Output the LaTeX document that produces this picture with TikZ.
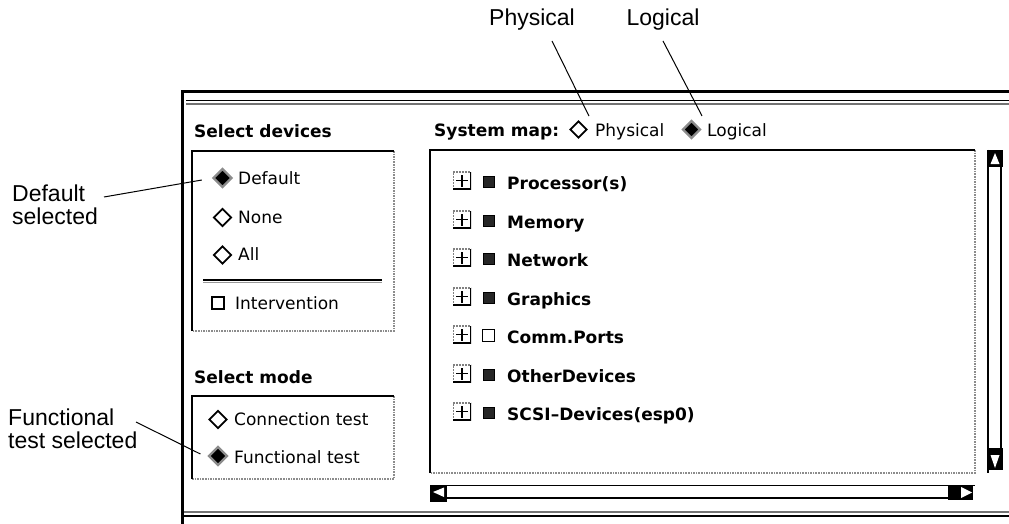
\documentclass[tikz,border=0pt]{standalone}
\usepackage{fontspec}
\setmainfont{Liberation Sans}
\newfontfamily\uifont{DejaVu Sans}
\usetikzlibrary{shapes.geometric,calc}
\tikzset{
  ann/.style={font=\fontsize{23}{23}\selectfont, inner sep=0pt, align=left},
  leader/.style={draw=black, line width=1pt},
  uitext/.style={font=\uifont\fontsize{17}{17}\selectfont, inner sep=0pt, anchor=base west},
  uihead/.style={font=\uifont\bfseries\fontsize{17}{17}\selectfont, inner sep=0pt, anchor=base west},
  radoff/.style={shape=diamond, draw=black, line width=1.8pt, fill=white, minimum size=18pt, inner sep=0pt},
  radon/.style={shape=diamond, draw=black!45, line width=2.2pt, fill=black, minimum size=19pt, inner sep=0pt},
  chkon/.style={draw=black, line width=1pt, fill=black!85, minimum size=11pt, inner sep=0pt},
  chkoff/.style={draw=black, line width=1.3pt, fill=white, minimum size=12pt, inner sep=0pt},
  plusbox/.style={minimum size=18pt, inner sep=0pt,
    path picture={
      \draw[black!50, densely dotted, line width=2pt] (path picture bounding box.south west) -- (path picture bounding box.north west) -- (path picture bounding box.north east);
      \draw[black, line width=2.6pt] (path picture bounding box.north east) -- (path picture bounding box.south east) -- (path picture bounding box.south west);
      \draw[line width=1.9pt] ([xshift=-6pt]path picture bounding box.center) -- ([xshift=6pt]path picture bounding box.center);
      \draw[line width=1.9pt] ([yshift=-6pt]path picture bounding box.center) -- ([yshift=6pt]path picture bounding box.center);}},
  darkedge/.style={draw=black, line width=2.4pt},
  lightedge/.style={draw=black!45, line width=1.6pt, densely dotted},
}
\begin{document}
\begin{tikzpicture}[x=1pt,y=-1pt]
\useasboundingbox (0,0) rectangle (1009,524);
% outer window frame
\draw[line width=3pt] (182,524) -- (182,92) -- (1009,92);
\draw[line width=1pt] (186,101) -- (1009,101);
\draw[line width=1.2pt, black!55] (186,104) -- (1009,104);
\draw[line width=1.2pt, black!55] (184,512) -- (1009,512);
\draw[line width=1.6pt] (184,516) -- (1009,516);

% Select devices panel
\node[uihead] (hdev) at (194,138) {Select devices};
\draw[lightedge] (394,151) -- (394,331) -- (192,331);
\draw[darkedge] (192,331) -- (192,151) -- (394,151);
\node[radon] (rDefault) at (222.5,178) {};
\node[uitext] (tDefault) at (238,184) {Default};
\node[radoff] (rNone) at (222.5,217.5) {};
\node[uitext] (tNone) at (238,223) {None};
\node[radoff] (rAll) at (222.5,255) {};
\node[uitext] (tAll) at (238,260) {All};
\draw[line width=1.4pt] (203,280) -- (382,280);
\draw[line width=0.8pt, black!40] (203,282) -- (382,282);
\node[chkoff] (cInt) at (218,303) {};
\node[uitext] (tInt) at (235,309) {Intervention};

% Select mode panel
\node[uihead] (hmode) at (194,383) {Select mode};
\draw[lightedge] (394,396) -- (394,479) -- (192,479);
\draw[darkedge] (192,479) -- (192,396) -- (394,396);
\node[radoff] (rConn) at (218,419.5) {};
\node[uitext] (tConn) at (234,425) {Connection test};
\node[radon] (rFunc) at (218,456) {};
\node[uitext] (tFunc) at (234,463) {Functional test};

% System map
\node[uihead] (hmap) at (434,136) {System map:};
\node[radoff, minimum size=17pt] (rPhys) at (578.5,129.5) {};
\node[uitext] (tPhys) at (595,136) {Physical};
\node[radon, minimum size=18pt] (rLog) at (691.5,129.5) {};
\node[uitext] (tLog) at (707,136) {Logical};

% Map box
\draw[lightedge] (975,150) -- (975,473) -- (430,473);
\draw[darkedge] (430,473) -- (430,150) -- (975,150);

\foreach \yb/\lab/\st [count=\i] in {189/Processor(s)/chkon, 228/Memory/chkon, 266/Network/chkon, 305/Graphics/chkon, 343/Comm.Ports/chkoff, 382/OtherDevices/chkon, 420/SCSI\textendash Devices(esp0)/chkon}{
  \node[plusbox] (p\i) at (462,\yb-8.5) {};
  \node[\st] (c\i) at (488.5,\yb-7.5) {};
  \node[uihead] (t\i) at (507,\yb) {\lab};
}

% vertical scrollbar
\draw[line width=2.4pt] (988,150) -- (988,473);
\draw[line width=1.6pt] (1001,167) -- (1001,448);
\fill[black] (987,150) rectangle (1003,167);
\fill[white] (995,153) -- (999.5,164) -- (990.5,164) -- cycle;
\fill[black] (987,448) rectangle (1003,470);
\fill[white] (990.5,455) -- (999.5,455) -- (995,468) -- cycle;

% horizontal scrollbar
\draw[line width=1.6pt] (430,485.5) -- (975,485.5);
\draw[line width=1.6pt] (447,498) -- (950,498);
\fill[black] (430,485) rectangle (447,502);
\fill[white] (433,492) -- (444,487.5) -- (444,497) -- cycle;
\fill[black] (948,485) rectangle (973,500);
\fill[white] (961,487) -- (972,492.5) -- (961,498) -- cycle;

% annotations
\node[ann, anchor=base] (aPhys) at (532,26) {Physical};
\node[ann, anchor=base] (aLog) at (663,26) {Logical};
\draw[leader] ($(aPhys.south)+(20,10)$) -- ($(rPhys.north)+(10.5,-4)$);
\draw[leader] ($(aLog.south)+(0,10)$) -- ($(rLog.north)+(10.5,-3.5)$);

\node[ann, anchor=base west] (aDef) at (12,224) {Default\\selected};
\node[ann, anchor=base west] (aFunc) at (8,448) {Functional\\test selected};
\draw[leader] (104,197) -- ($(rDefault.west)+(-10,2)$);
\draw[leader] (136,422) -- ($(rFunc.west)+(-7,-2)$);
\end{tikzpicture}
\end{document}
